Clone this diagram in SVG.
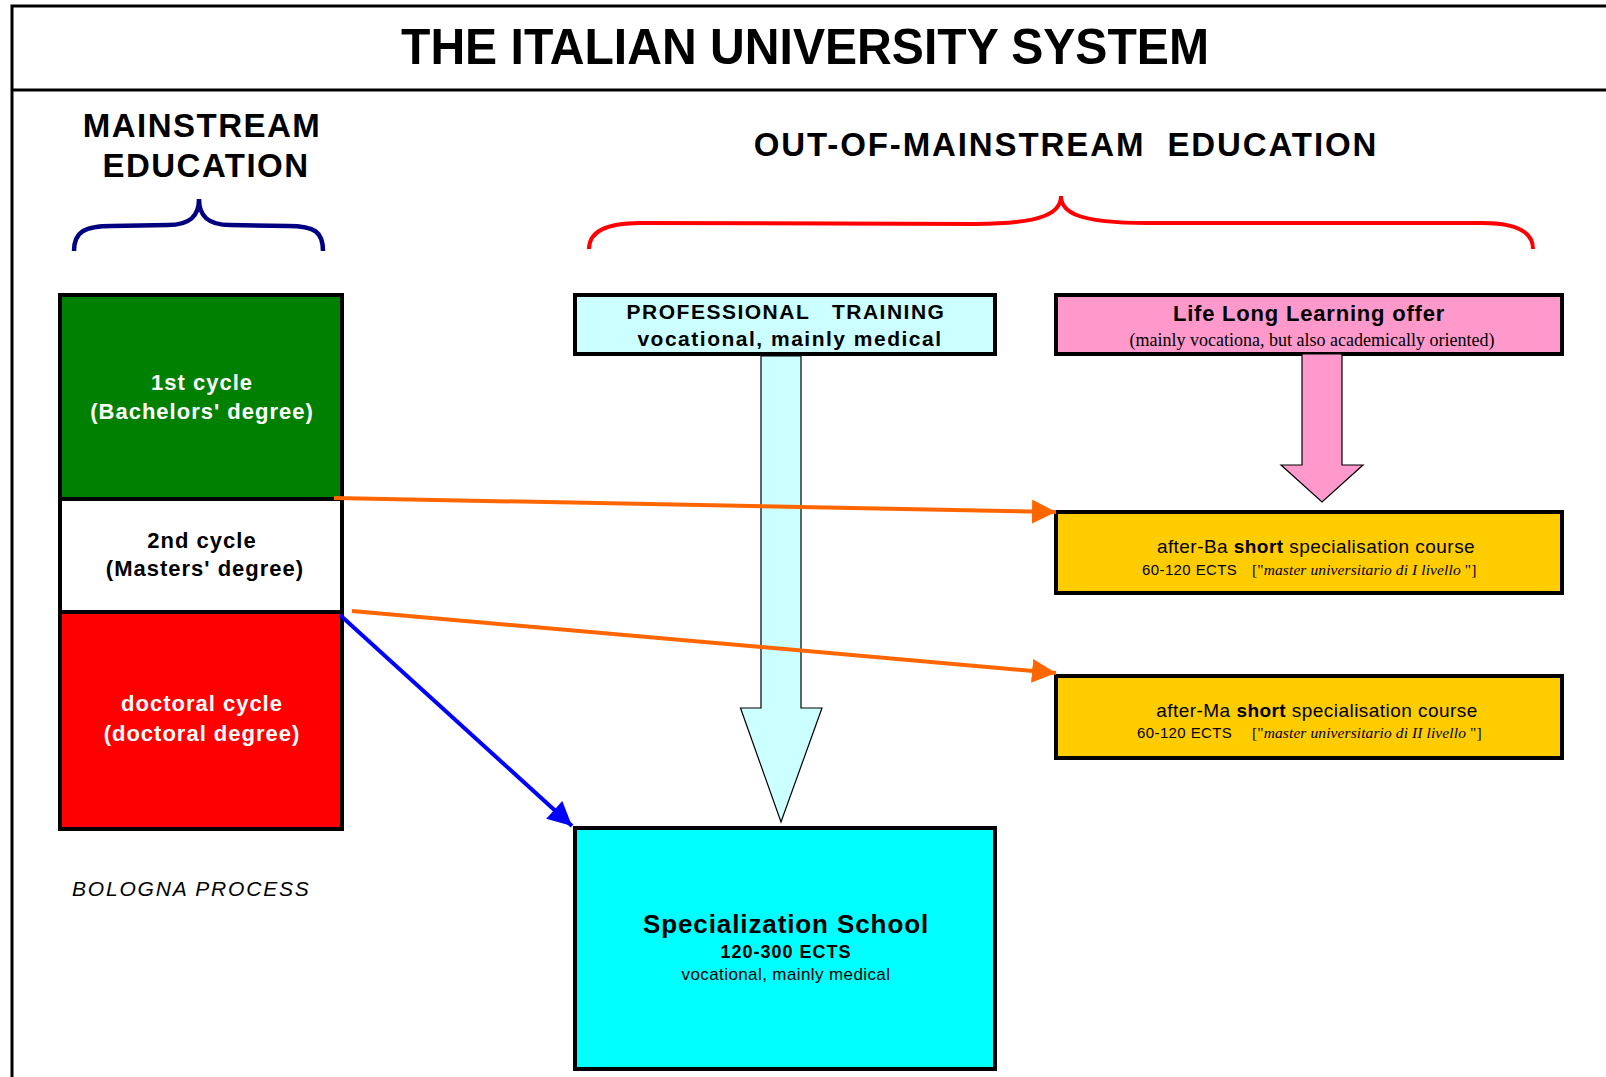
<svg xmlns="http://www.w3.org/2000/svg" width="1606" height="1077" viewBox="0 0 1606 1077">
<defs>
<style>
.sans{font-family:"Liberation Sans",Arial,sans-serif}
.serif{font-family:"Liberation Serif","Times New Roman",serif}
.b{font-weight:bold}
.box{stroke:#000;stroke-width:4}
.conn{fill:none;stroke-width:4}
</style>
<marker id="ahOrange" viewBox="0 0 10 10" refX="10" refY="5" markerWidth="6" markerHeight="6" markerUnits="strokeWidth" orient="auto"><path d="M0,0 L10,5 L0,10 Z" fill="#FF6600"/></marker>
<marker id="ahBlue" viewBox="0 0 10 10" refX="10" refY="5" markerWidth="6.5" markerHeight="6" markerUnits="strokeWidth" orient="auto"><path d="M0,0 L10,5 L0,10 Z" fill="#0000FF"/></marker>
</defs>
<rect x="0" y="0" width="1606" height="1077" fill="#fff"/>

<g id="frame">
<path d="M1606,6 H12 V1077" fill="none" stroke="#000" stroke-width="3"/>
<line x1="12" y1="90" x2="1606" y2="90" stroke="#000" stroke-width="3"/>
<text x="805" y="64" text-anchor="middle" class="sans b" font-size="50" textLength="808" lengthAdjust="spacingAndGlyphs">THE ITALIAN UNIVERSITY SYSTEM</text>
</g>

<g id="mainstream-heading">
<text x="202" y="137" text-anchor="middle" class="sans b" font-size="33" letter-spacing="1.5">MAINSTREAM</text>
<text x="206" y="177" text-anchor="middle" class="sans b" font-size="33" letter-spacing="1.5">EDUCATION</text>
<path d="M74,251 C74,232 84,226 112,226 L168,225 C190,225 199,216 199,199 C199,216 208,225 230,225 L288,226 C315,226 323,232 323,251" fill="none" stroke="#000080" stroke-width="4.5"/>
</g>

<g id="out-of-mainstream-heading">
<text x="1066" y="156" text-anchor="middle" class="sans b" font-size="33" letter-spacing="1.9" style="white-space:pre">OUT-OF-MAINSTREAM  EDUCATION</text>
<path d="M589,249 C589,232 606,223 640,223 L975,224 C1045,224 1061,212 1061,196 C1061,212 1077,223 1147,223 L1482,223 C1516,223 1533,232 1533,249" fill="none" stroke="#FF0000" stroke-width="4"/>
</g>

<g id="first-cycle">
<rect x="60" y="295" width="282" height="204" fill="#008000" class="box"/>
<text x="202" y="390" text-anchor="middle" class="sans b" font-size="22" letter-spacing="1" fill="#fff">1st cycle</text>
<text x="202" y="419" text-anchor="middle" class="sans b" font-size="22" letter-spacing="1" fill="#fff">(Bachelors' degree)</text>
</g>
<g id="second-cycle">
<rect x="60" y="499" width="282" height="113" fill="#fff" class="box"/>
<text x="202" y="548" text-anchor="middle" class="sans b" font-size="22" letter-spacing="1">2nd cycle</text>
<text x="205" y="576" text-anchor="middle" class="sans b" font-size="22" letter-spacing="1">(Masters' degree)</text>
</g>
<g id="doctoral-cycle">
<rect x="60" y="612" width="282" height="217" fill="#FF0000" class="box"/>
<text x="202" y="711" text-anchor="middle" class="sans b" font-size="22" letter-spacing="1" fill="#fff">doctoral cycle</text>
<text x="202" y="741" text-anchor="middle" class="sans b" font-size="22" letter-spacing="1" fill="#fff">(doctoral degree)</text>
</g>

<g id="bologna-label">
<text x="72" y="896" class="sans" font-style="italic" font-size="21" letter-spacing="1.8">BOLOGNA PROCESS</text>
</g>

<g id="professional-training">
<rect x="575" y="295" width="420" height="59" fill="#CCFFFF" class="box"/>
<text x="786" y="319" text-anchor="middle" class="sans b" font-size="21" letter-spacing="1.5" style="white-space:pre">PROFESSIONAL   TRAINING</text>
<text x="790" y="346" text-anchor="middle" class="sans b" font-size="21" letter-spacing="1.5">vocational, mainly medical</text>
</g>

<g id="life-long-learning">
<rect x="1056" y="295" width="506" height="59" fill="#FF99CC" class="box"/>
<text x="1309" y="321" text-anchor="middle" class="sans b" font-size="22" letter-spacing="0.8">Life Long Learning offer</text>
<text x="1312" y="346" text-anchor="middle" class="serif" font-size="18">(mainly vocationa, but also academically oriented)</text>
</g>

<g id="after-ba">
<rect x="1056" y="512" width="506" height="81" fill="#FFCC00" class="box"/>
<text x="1316" y="553" text-anchor="middle" class="sans" font-size="19" letter-spacing="0.45">after-Ba <tspan class="b">short</tspan> specialisation course</text>
<text y="575" font-size="15"><tspan x="1142" class="sans" letter-spacing="0.4">60-120 ECTS</tspan><tspan x="1252" class="serif" font-size="15.5" letter-spacing="0.1">["<tspan font-style="italic">master universitario di I livello </tspan>"]</tspan></text>
</g>

<g id="after-ma">
<rect x="1056" y="676" width="506" height="82" fill="#FFCC00" class="box"/>
<text x="1317" y="717" text-anchor="middle" class="sans" font-size="19" letter-spacing="0.45">after-Ma <tspan class="b">short</tspan> specialisation course</text>
<text y="738" font-size="15"><tspan x="1137" class="sans" letter-spacing="0.4">60-120 ECTS</tspan><tspan x="1252" class="serif" font-size="15.5" letter-spacing="0.1">["<tspan font-style="italic">master universitario di II livello </tspan>"]</tspan></text>
</g>

<g id="specialization-school">
<rect x="575" y="828" width="420" height="241" fill="#00FFFF" class="box"/>
<text x="786" y="933" text-anchor="middle" class="sans b" font-size="26" letter-spacing="0.9">Specialization School</text>
<text x="786" y="958" text-anchor="middle" class="sans b" font-size="18" letter-spacing="1">120-300 ECTS</text>
<text x="786" y="980" text-anchor="middle" class="sans" font-size="17" letter-spacing="0.4">vocational, mainly medical</text>
</g>

<g id="connectors">
<path d="M761,356 V708 H740.5 L781,822 L822,708 H801 V356 Z" fill="#CCFFFF" stroke="#000" stroke-width="1.2"/>
<path d="M1302,354 V465 H1281 L1322,502 L1363,465 H1342 V354 Z" fill="#FF99CC" stroke="#000" stroke-width="1.2"/>
<line x1="334" y1="498" x2="1056" y2="512" class="conn" stroke="#FF6600" marker-end="url(#ahOrange)"/>
<line x1="352" y1="611" x2="1056" y2="673" class="conn" stroke="#FF6600" marker-end="url(#ahOrange)"/>
<line x1="340" y1="615" x2="572" y2="826" class="conn" stroke="#0000FF" marker-end="url(#ahBlue)"/>
</g>
</svg>
